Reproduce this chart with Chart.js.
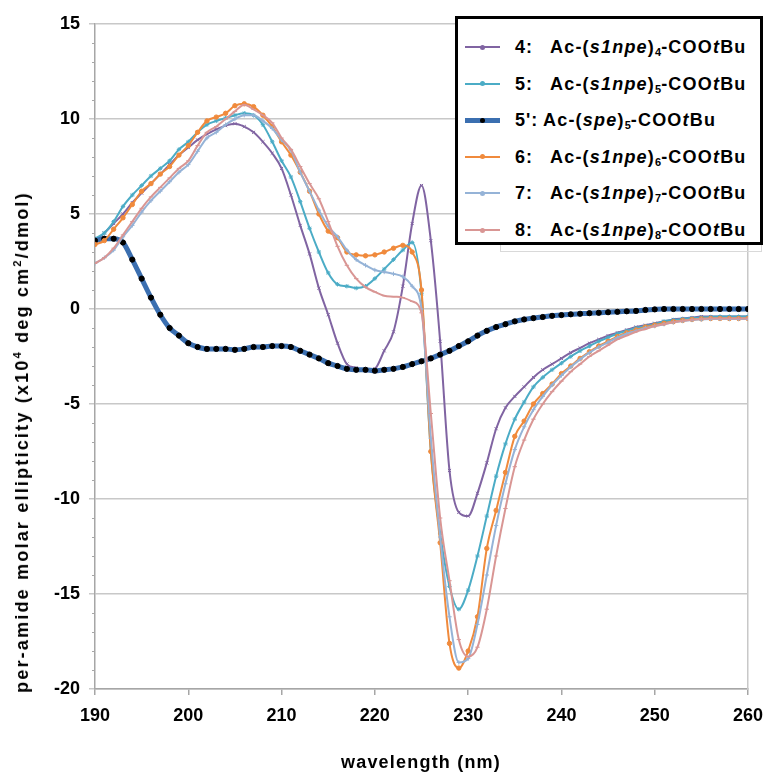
<!DOCTYPE html>
<html>
<head>
<meta charset="utf-8">
<script src="https://cdn.jsdelivr.net/npm/chart.js@4.4.1/dist/chart.umd.min.js"></script>
<style>
  body { margin: 0; background: #fff; font-family: "Liberation Sans", Arial, sans-serif; }
  #wrap { position: relative; width: 768px; height: 773px; }
  #ghost { position: absolute; left: 500px; top: 20px; width: 260px; height: 230px; border: 1px solid #d9d9d9; }
  #legend { position: absolute; left: 455px; top: 16px; width: 302px; height: 223px; border: 3px solid #000; background: #fff; }
  .row { position: absolute; left: 0; height: 24px; width: 300px; font-weight: bold; font-size: 18px; color: #000; }
  .sw { position: absolute; left: 7px; top: 11px; width: 35px; }
  .mk { position: absolute; left: 15px; width: 5px; height: 5px; border-radius: 50%; }
  .num { position: absolute; left: 57px; top: 1px; letter-spacing: 1px; }
  .txt { position: absolute; top: 1px; white-space: nowrap; letter-spacing: 1.2px; }
  .txt sub { font-size: 11px; vertical-align: -3px; letter-spacing: 0; }
  .ytitle { position: absolute; left: 22px; top: 442px; transform: translate(-50%, -50%) rotate(-90deg);
            white-space: nowrap; font-weight: bold; font-size: 18px; letter-spacing: 2.2px; color: #000; }
  .xtitle { position: absolute; left: 421px; top: 762px; transform: translate(-50%, -50%);
            white-space: nowrap; font-weight: bold; font-size: 18px; letter-spacing: 1.2px; color: #000; }
</style>
</head>
<body>
<div id="wrap">
  <canvas id="cd" width="768" height="773"></canvas>
  <div id="ghost"></div>
  <div id="legend"></div>
  <div class="ytitle">per-amide molar ellipticity (x10<sup style="font-size:11px">4</sup> deg cm<sup style="font-size:11px">2</sup>/dmol)</div>
  <div class="xtitle">wavelength (nm)</div>
</div>
<script>
// comprimentos de onda (nm)
const wavelengths = [190,191,192,193,194,195,196,197,198,199,200,201,202,203,204,205,206,207,208,209,
  210,211,212,213,214,215,216,217,218,219,220,221,222,223,224,225,226,227,228,229,
  230,231,232,233,234,235,236,237,238,239,240,241,242,243,244,245,246,247,248,249,
  250,251,252,253,254,255,256,257,258,259,260];

// 4: Ac-(s1npe)4-COOtBu
const s4 = [3.6,4.0,4.5,5.0,5.6,6.1,6.6,7.1,7.6,8.1,8.5,8.9,9.2,9.45,9.65,9.75,9.6,9.3,8.8,8.2,
  7.4,6.0,4.4,2.9,1.1,-0.3,-1.8,-2.9,-3.1,-3.25,-3.15,-2.2,-1.2,1.2,4.5,6.5,3.6,-1.7,-8.5,-10.7,
  -10.9,-9.7,-8.1,-6.3,-5.2,-4.6,-4.1,-3.6,-3.2,-2.9,-2.6,-2.3,-2.05,-1.8,-1.6,-1.4,-1.25,-1.1,-0.95,-0.85,
  -0.75,-0.65,-0.55,-0.5,-0.45,-0.4,-0.4,-0.4,-0.4,-0.4,-0.4];

// 5: Ac-(s1npe)5-COOtBu
const s5 = [3.7,4.0,4.6,5.4,6.0,6.5,7.0,7.4,7.8,8.4,8.8,9.3,9.7,9.9,10.05,10.2,10.3,10.2,9.7,8.8,
  7.8,6.95,5.65,4.25,3.0,1.9,1.3,1.2,1.1,1.2,1.6,2.1,2.6,3.1,3.5,0.8,-7.5,-11.8,-14.6,-15.8,
  -14.8,-13.0,-10.9,-8.8,-7.1,-5.8,-4.9,-4.1,-3.6,-3.2,-2.85,-2.5,-2.2,-1.95,-1.7,-1.5,-1.3,-1.15,-1.0,-0.9,
  -0.8,-0.65,-0.58,-0.52,-0.48,-0.45,-0.42,-0.4,-0.4,-0.4,-0.4];

// 5': Ac-(spe)5-COOtBu
const s5p = [3.6,3.7,3.7,3.5,2.6,1.6,0.6,-0.3,-1.0,-1.4,-1.8,-2.0,-2.1,-2.1,-2.1,-2.15,-2.1,-2.0,-2.0,-1.95,
  -1.95,-2.0,-2.2,-2.4,-2.6,-2.85,-3.0,-3.15,-3.2,-3.2,-3.25,-3.2,-3.15,-3.05,-2.9,-2.75,-2.6,-2.4,-2.2,-1.95,
  -1.7,-1.4,-1.15,-0.95,-0.8,-0.65,-0.55,-0.48,-0.42,-0.36,-0.32,-0.28,-0.25,-0.22,-0.2,-0.17,-0.15,-0.12,-0.1,-0.05,
  -0.02,0,0,0,0,0,0,0,0,0,0];

// 6: Ac-(s1npe)6-COOtBu
const s6 = [3.4,3.6,4.2,4.8,5.5,6.2,6.6,7.1,7.5,8.1,8.6,9.3,9.9,10.1,10.3,10.7,10.8,10.65,10.2,9.6,
  8.8,8.1,7.2,6.2,5.0,4.1,3.75,3.0,2.85,2.8,2.85,3.0,3.2,3.35,3.0,1.0,-7.5,-12.3,-17.6,-18.9,
  -18.0,-16.2,-12.6,-10.6,-8.6,-6.7,-5.9,-5.0,-4.45,-3.95,-3.4,-3.0,-2.6,-2.25,-1.95,-1.7,-1.45,-1.25,-1.1,-0.95,
  -0.85,-0.75,-0.67,-0.6,-0.55,-0.52,-0.5,-0.5,-0.5,-0.5,-0.5];

// 7: Ac-(s1npe)7-COOtBu
const s7 = [2.4,2.7,3.1,3.8,4.4,5.1,5.7,6.2,6.7,7.2,7.6,8.3,9.0,9.3,9.7,10.0,10.2,10.2,9.9,9.5,
  8.9,8.35,7.2,6.2,5.2,4.35,3.8,3.1,2.6,2.3,2.05,1.95,1.85,1.7,1.2,0.0,-6.8,-12.0,-16.2,-18.6,
  -18.4,-16.6,-14.0,-11.4,-9.2,-7.4,-6.2,-5.3,-4.6,-4.0,-3.5,-3.05,-2.65,-2.3,-2.0,-1.75,-1.5,-1.3,-1.15,-1.0,
  -0.9,-0.8,-0.7,-0.63,-0.58,-0.55,-0.52,-0.52,-0.52,-0.52,-0.52];

// 8: Ac-(s1npe)8-COOtBu
const s8 = [2.4,2.7,3.2,3.9,4.6,5.3,5.9,6.4,6.9,7.4,7.8,8.6,9.3,9.6,10.0,10.4,10.75,10.5,10.2,9.8,
  9.0,8.4,7.5,6.6,5.8,4.6,3.3,2.3,1.6,1.15,0.9,0.7,0.65,0.6,0.4,-0.2,-5.5,-11.0,-14.3,-17.4,
  -18.3,-17.8,-15.8,-13.0,-10.5,-8.3,-6.9,-5.8,-5.0,-4.35,-3.8,-3.3,-2.9,-2.5,-2.2,-1.9,-1.6,-1.4,-1.2,-1.05,
  -0.9,-0.8,-0.7,-0.62,-0.56,-0.52,-0.5,-0.5,-0.5,-0.5,-0.5];

const xTicks = [190,200,210,220,230,240,250,260];
const yTicks = [-20,-15,-10,-5,0,5,10,15];

// rótulos da legenda
const serieNum = ['4:', '5:', "5':", '6:', '7:', '8:'];
const serieCore = ['s1npe', 's1npe', 'spe', 's1npe', 's1npe', 's1npe'];
const serieSub = ['4', '5', '5', '6', '7', '8'];
const cores = ['#8064A2', '#4BACC6', '#3B6FB0', '#F08A3C', '#95B3D7', '#D99694'];
const marcadores = ['crossRot', 'star', 'circle', 'circle', 'cross', 'line'];
const series = [s4, s5, s5p, s6, s7, s8];

const datasets = series.map((s, i) => ({
  label: serieNum[i] + ' Ac-(' + serieCore[i] + ')' + serieSub[i] + '-COOtBu',
  data: s.map((v, j) => ({ x: wavelengths[j], y: v })),
  borderColor: cores[i],
  backgroundColor: i === 2 ? '#000' : cores[i],
  pointBorderColor: i === 2 ? '#000' : cores[i],
  borderWidth: i === 2 ? 5 : 2,
  pointStyle: marcadores[i],
  pointRadius: i === 2 ? 2.6 : 2.2,
  pointBorderWidth: 1,
  cubicInterpolationMode: 'monotone',
  order: 5 - i
}));

// marcas menores no eixo y
const minorTicks = {
  id: 'minorTicks',
  afterDraw(chart) {
    const y = chart.scales.y, ctx = chart.ctx, x0 = chart.chartArea.left;
    ctx.save();
    ctx.strokeStyle = '#a6a6a6';
    ctx.lineWidth = 1;
    for (let v = -20; v <= 15; v += 1) {
      if (v % 5 === 0) continue;
      const py = Math.round(y.getPixelForValue(v)) + 0.5;
      ctx.beginPath(); ctx.moveTo(x0 - 3, py); ctx.lineTo(x0, py); ctx.stroke();
    }
    ctx.restore();
  }
};

const fonteEixo = { family: '"Liberation Sans", Arial, sans-serif', size: 18, weight: 'bold' };

new Chart(document.getElementById('cd').getContext('2d'), {
  type: 'line',
  data: { datasets },
  options: {
    responsive: false,
    animation: false,
    layout: { padding: { left: 0, right: 20, top: 24, bottom: 0 } },
    plugins: { legend: { display: false }, tooltip: { enabled: false } },
    scales: {
      x: {
        type: 'linear', min: 190, max: 260,
        afterBuildTicks: s => { s.ticks = xTicks.map(v => ({ value: v })); },
        ticks: { color: '#000', font: fonteEixo, padding: 10, maxRotation: 0 },
        grid: { drawOnChartArea: false, color: '#a6a6a6', tickLength: 6, lineWidth: 1.5 },
        border: { color: '#a6a6a6', width: 1.5 },
        afterFit: s => { s.height = 84; s.paddingRight = 0; s.paddingLeft = 0; }
      },
      y: {
        min: -20, max: 15,
        afterBuildTicks: s => { s.ticks = yTicks.map(v => ({ value: v })); },
        ticks: { color: '#000', font: fonteEixo, padding: 9 },
        grid: { color: '#c8c8c8', tickLength: 6, lineWidth: 1.5 },
        border: { color: '#a6a6a6', width: 1.5 },
        afterFit: s => { s.width = 95; }
      },
      y2: {
        position: 'right', min: 0, max: 1,
        ticks: { display: false },
        grid: { display: false },
        border: { color: '#c8c8c8', width: 1.5 },
        afterFit: s => { s.width = 0; }
      }
    }
  },
  plugins: [minorTicks]
});

// legenda em HTML
const leg = document.getElementById('legend');
series.forEach((s, i) => {
  const row = document.createElement('div');
  row.className = 'row';
  row.style.top = (17 + i * 36.6) + 'px';
  const espessura = i === 2 ? 5 : 2;
  row.innerHTML =
    '<div class="sw" style="height:' + espessura + 'px;margin-top:' + (-espessura / 2) + 'px;background:' + cores[i] + '">' +
    '<div class="mk" style="top:' + (espessura / 2 - 2.5) + 'px;background:' + (i === 2 ? '#000' : cores[i]) + '"></div></div>' +
    '<span class="num">' + serieNum[i] + '</span>' +
    '<span class="txt" style="left:' + (i === 2 ? 85 : 92) + 'px">Ac-(<i>' + serieCore[i] + '</i>)<sub>' + serieSub[i] + '</sub>-COO<i>t</i>Bu</span>';
  leg.appendChild(row);
});
</script>
</body>
</html>
